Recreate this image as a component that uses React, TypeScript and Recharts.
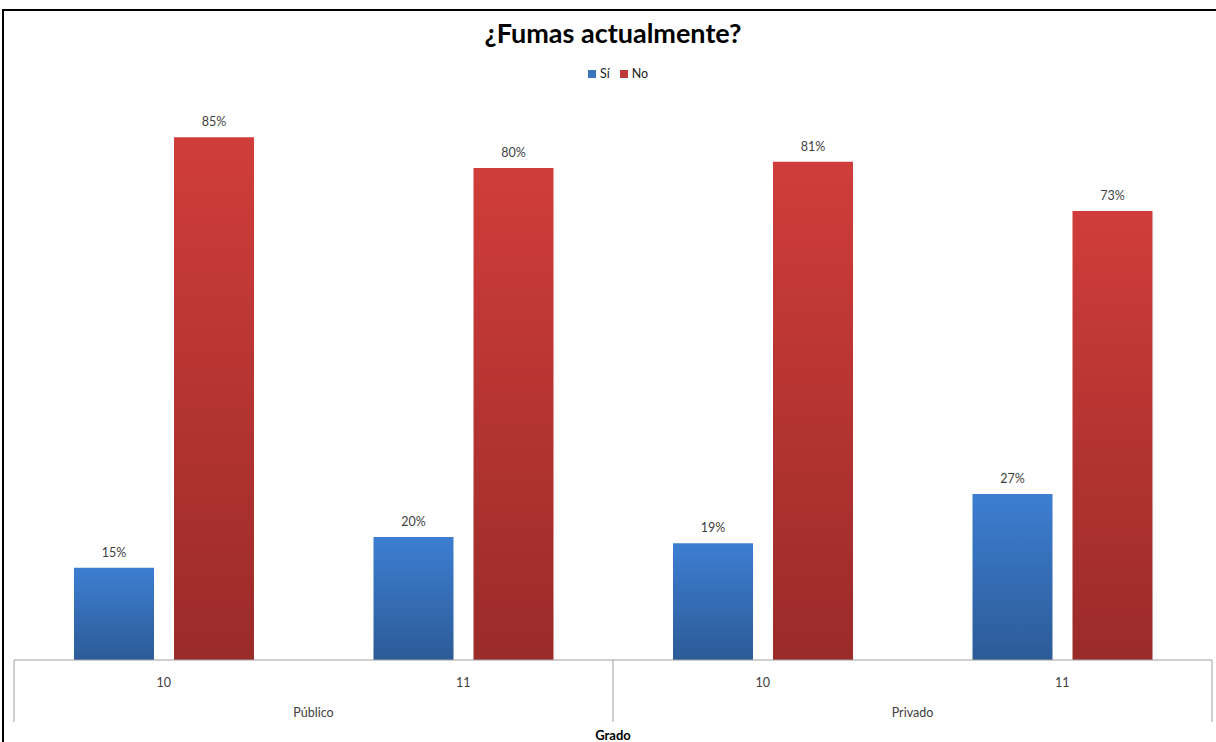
import React from 'react';
import { BarChart, Bar, XAxis, YAxis, Legend, LabelList } from 'recharts';

const grades = ['10', '11', '10', '11'];
const groups = ['Público', 'Público', 'Privado', 'Privado'];
const si = [15, 20, 19, 27];
const no = [85, 80, 81, 73];

const data = grades.map((g, i) => ({ grade: g, group: groups[i], si: si[i], no: no[i] }));

const FONT = 'Lato, "Open Sans", sans-serif';
const TXT = '#404040';

const Tick = (props: any) => {
  const { x, payload, index } = props;
  const y = 660;
  const off = payload && typeof payload.offset === 'number' ? payload.offset : 150;
  const els: any[] = [];
  els.push(
    <text key="t" x={x} y={y + 27} textAnchor="middle" fontSize={12.5} fill={TXT} fontFamily={FONT}>
      {payload.value}
    </text>
  );
  const isGroupStart = index === 0 || groups[index] !== groups[index - 1];
  if (isGroupStart) {
    els.push(<line key="l" x1={x - off} x2={x - off} y1={y} y2={y + 62} stroke="#A0A0A0" strokeWidth={1} />);
    els.push(
      <text key="g" x={x + off} y={y + 57} textAnchor="middle" fontSize={12.5} fill={TXT} fontFamily={FONT}>
        {groups[index]}
      </text>
    );
  }
  if (index === grades.length - 1) {
    els.push(<line key="r" x1={x + off} x2={x + off} y1={y} y2={y + 62} stroke="#A0A0A0" strokeWidth={1} />);
  }
  return <g>{els}</g>;
};

const LegendContent = () => (
  <div style={{ display: 'flex', justifyContent: 'center', alignItems: 'center', fontFamily: FONT, fontSize: 12.5, color: '#222' }}>
    <span style={{ display: 'inline-block', width: 8, height: 8, background: '#3A74C0', marginRight: 4 }} />
    <span style={{ marginRight: 10 }}>Sí</span>
    <span style={{ display: 'inline-block', width: 8, height: 8, background: '#C0393A', marginRight: 4 }} />
    <span>No</span>
  </div>
);

export default function App() {
  return (
    <div style={{ position: 'absolute', left: 0, top: 0, width: 1216, height: 742, background: '#fff', overflow: 'hidden' }}>
      <div style={{ position: 'absolute', left: 2, top: 9, width: 1214, height: 733, borderTop: '2px solid #000', borderLeft: '2px solid #000', boxSizing: 'border-box' }} />
      <div style={{ position: 'absolute', left: 0, top: 16, width: 1226, textAlign: 'center', fontFamily: FONT, fontWeight: 700, fontSize: 27, color: '#000' }}>
        ¿Fumas actualmente?
      </div>
      <BarChart
        width={1216}
        height={742}
        data={data}
        margin={{ top: 45, right: 4, bottom: 0, left: 14 }}
        barGap={20}
        barSize={80}
      >
        <defs>
          <linearGradient id="gBlue" x1="0" y1="0" x2="0" y2="1">
            <stop offset="0%" stopColor="#3D7ED2" />
            <stop offset="100%" stopColor="#2C5B97" />
          </linearGradient>
          <linearGradient id="gRed" x1="0" y1="0" x2="0" y2="1">
            <stop offset="0%" stopColor="#D03D3A" />
            <stop offset="100%" stopColor="#9A2B29" />
          </linearGradient>
        </defs>
        <YAxis hide domain={[0, 100]} />
        <XAxis
          dataKey="grade"
          height={82}
          interval={0}
          tickLine={false}
          axisLine={{ stroke: '#A0A0A0' }}
          tick={<Tick />}
          label={{ value: 'Grado', position: 'insideBottom', offset: 2, fontSize: 13, fontWeight: 700, fill: '#000', fontFamily: FONT }}
        />
        <Legend
          verticalAlign="middle"
          align="center"
          layout="horizontal"
          content={<LegendContent />}
          wrapperStyle={{ top: 66, left: 10, width: 1216 }}
        />
        <Bar dataKey="si" name="Sí" fill="url(#gBlue)" isAnimationActive={false}>
          <LabelList dataKey="si" position="top" offset={11} formatter={(v: any) => `${v}%`} fontSize={12.5} fill={TXT} fontFamily={FONT} />
        </Bar>
        <Bar dataKey="no" name="No" fill="url(#gRed)" isAnimationActive={false}>
          <LabelList dataKey="no" position="top" offset={11} formatter={(v: any) => `${v}%`} fontSize={12.5} fill={TXT} fontFamily={FONT} />
        </Bar>
      </BarChart>
    </div>
  );
}
